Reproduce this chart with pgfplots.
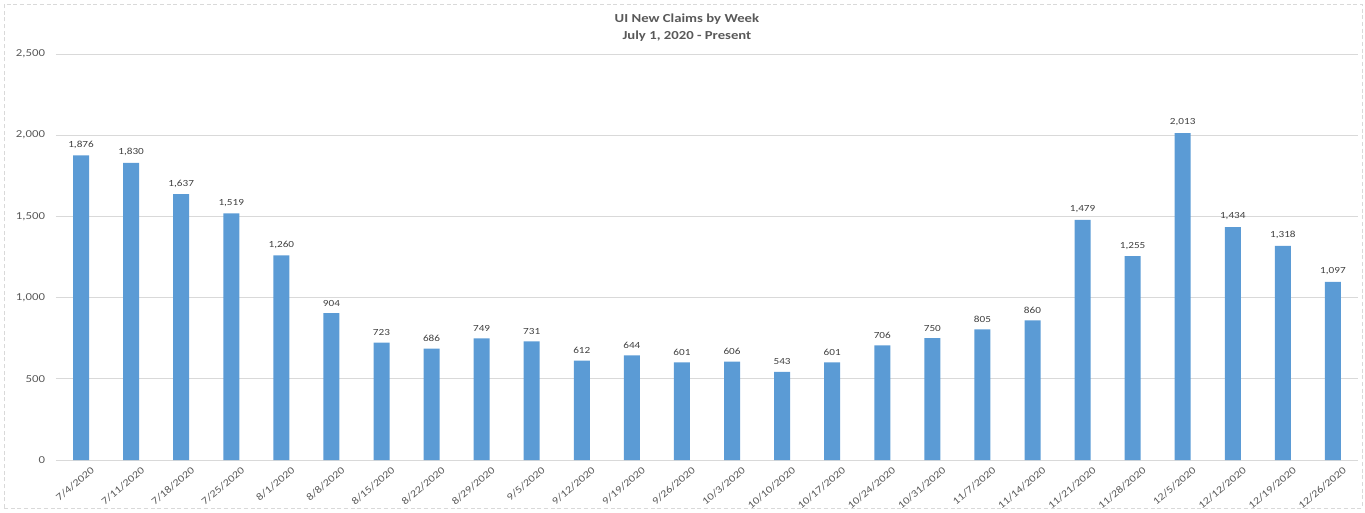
\documentclass[border=0pt]{standalone}
\usepackage{fontspec}
\setmainfont{Carlito}[FakeStretch=1.2]
\usepackage{pgfplots}
\pgfplotsset{compat=1.18}

\definecolor{barblue}{HTML}{5B9BD5}
\definecolor{gridgray}{HTML}{D9D9D9}
\definecolor{labelgray}{HTML}{595959}
\definecolor{valgray}{HTML}{404040}

\pgfplotstableread{
idx val
0 1876
1 1830
2 1637
3 1519
4 1260
5 904
6 723
7 686
8 749
9 731
10 612
11 644
12 601
13 606
14 543
15 601
16 706
17 750
18 805
19 860
20 1479
21 1255
22 2013
23 1434
24 1318
25 1097
}\claims

\begin{document}
\begin{tikzpicture}[x=1pt,y=1pt]
\begin{axis}[
  at={(0,0)}, anchor=south west,
  scale only axis,
  width=976.5pt, height=304.5pt,
  xmin=-0.5, xmax=25.5,
  ymin=0, ymax=2500,
  ytick={0,500,...,2500},
  xtick=data,
  xticklabels={7/4/2020,7/11/2020,7/18/2020,7/25/2020,8/1/2020,8/8/2020,8/15/2020,8/22/2020,8/29/2020,9/5/2020,9/12/2020,9/19/2020,9/26/2020,10/3/2020,10/10/2020,10/17/2020,10/24/2020,10/31/2020,11/7/2020,11/14/2020,11/21/2020,11/28/2020,12/5/2020,12/12/2020,12/19/2020,12/26/2020},
  axis line style={draw=none},
  major tick length=0pt,
  ymajorgrids,
  grid style={gridgray, line width=0.75pt},
  extra y ticks={0},
  extra y tick labels={},
  extra y tick style={grid style={gridgray, line width=0.75pt}},
  /pgf/number format/.cd, 1000 sep={,}, assume math mode=true,
  /pgfplots/.cd,
  yticklabel style={font=\fontsize{8}{9}\selectfont, text=labelgray, anchor=east, inner sep=0pt, xshift=-8pt},
  xticklabel style={font=\fontsize{7.6}{9}\selectfont, text=labelgray, rotate=40, anchor=north east, inner sep=0pt, xshift=2.5pt, yshift=-8pt},
  nodes near coords,
  nodes near coords style={font=\fontsize{7}{8}\selectfont, text=valgray, inner sep=0pt, anchor=south, yshift=5pt},
  clip=false,
]
\addplot[ybar, bar width=12pt, fill=barblue, draw=none] table[x=idx, y=val] {\claims};
\node[font=\bfseries\fontsize{9.2}{11}\selectfont, text=labelgray] at ([yshift=26.5pt]rel axis cs:0.4846,1) {UI New Claims by Week};
\node[font=\bfseries\fontsize{9.2}{11}\selectfont, text=labelgray] at ([yshift=13.5pt]rel axis cs:0.4846,1) {July 1, 2020 - Present};
\end{axis}
\pgfresetboundingbox
\path[use as bounding box] (-42pt,-39pt) rectangle (981.75pt,345pt);
\draw[gridgray, line width=0.6pt, densely dashed] (-39pt,-36pt) rectangle (979.5pt,342pt);
\end{tikzpicture}
\end{document}
